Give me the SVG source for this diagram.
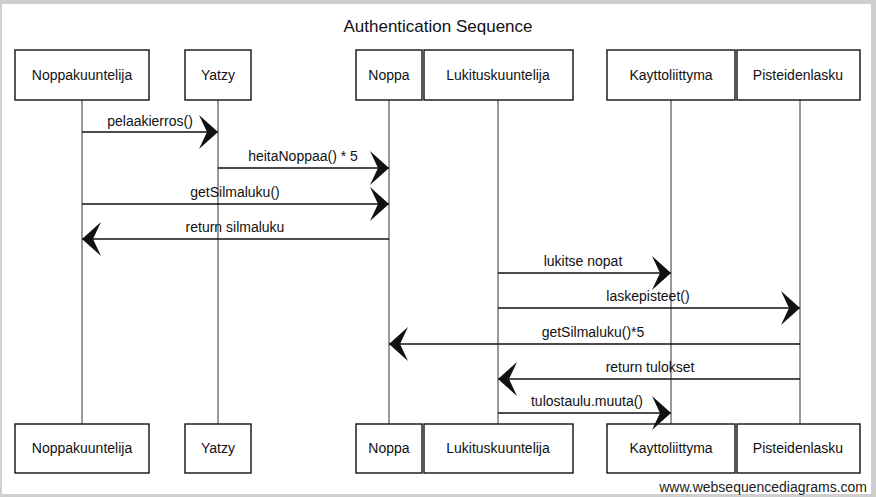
<svg xmlns="http://www.w3.org/2000/svg" width="876" height="497" viewBox="0 0 876 497">
<defs>
<style>
.box{fill:#fff;stroke:#111;stroke-width:1.4}
.life{stroke:#333;stroke-width:1;fill:none}
.msg{stroke:#111;stroke-width:1.5;fill:none}
.t{font-family:"Liberation Sans",Arial,sans-serif;font-size:14px;fill:#111;text-anchor:middle}
.title{font-family:"Liberation Sans",Arial,sans-serif;font-size:17px;fill:#111;text-anchor:middle}
.wm{font-family:"Liberation Sans",Arial,sans-serif;font-size:14px;fill:#222;text-anchor:end}
</style>
<marker id="ah" viewBox="-22 -18 24 36" refX="0" refY="0" markerWidth="24" markerHeight="36" markerUnits="userSpaceOnUse" orient="auto">
<path d="M0,0 L-19,-17 L-11,0 L-19,17 Z" fill="#111"/>
</marker>
</defs>
<rect x="0" y="0" width="876" height="497" fill="#cfcfcf"/>
<rect x="2" y="4" width="869" height="490" fill="#fff"/>
<text class="title" x="438" y="32">Authentication Sequence</text>
<g id="lifelines">
<line class="life" x1="82" y1="100" x2="82" y2="424"/>
<line class="life" x1="218" y1="100" x2="218" y2="424"/>
<line class="life" x1="389" y1="100" x2="389" y2="424"/>
<line class="life" x1="498" y1="100" x2="498" y2="424"/>
<line class="life" x1="671" y1="100" x2="671" y2="424"/>
<line class="life" x1="800" y1="100" x2="800" y2="424"/>
</g>
<g id="Noppakuuntelija">
<rect class="box" x="15" y="50" width="134" height="50"/><text class="t" x="82" y="80">Noppakuuntelija</text>
<rect class="box" x="15" y="424" width="134" height="49"/><text class="t" x="82" y="453">Noppakuuntelija</text>
</g>
<g id="Yatzy">
<rect class="box" x="185" y="50" width="66" height="50"/><text class="t" x="218" y="80">Yatzy</text>
<rect class="box" x="185" y="424" width="66" height="49"/><text class="t" x="218" y="453">Yatzy</text>
</g>
<g id="Noppa">
<rect class="box" x="356" y="50" width="66" height="50"/><text class="t" x="389" y="80">Noppa</text>
<rect class="box" x="356" y="424" width="66" height="49"/><text class="t" x="389" y="453">Noppa</text>
</g>
<g id="Lukituskuuntelija">
<rect class="box" x="424" y="50" width="149" height="50"/><text class="t" x="498" y="80">Lukituskuuntelija</text>
<rect class="box" x="424" y="424" width="149" height="49"/><text class="t" x="498" y="453">Lukituskuuntelija</text>
</g>
<g id="Kayttoliittyma">
<rect class="box" x="607" y="50" width="128" height="50"/><text class="t" x="671" y="80">Kayttoliittyma</text>
<rect class="box" x="607" y="424" width="128" height="49"/><text class="t" x="671" y="453">Kayttoliittyma</text>
</g>
<g id="Pisteidenlasku">
<rect class="box" x="737" y="50" width="123" height="50"/><text class="t" x="798" y="80">Pisteidenlasku</text>
<rect class="box" x="737" y="424" width="123" height="49"/><text class="t" x="798" y="453">Pisteidenlasku</text>
</g>
<g id="connectors">
<line class="msg" x1="82" y1="132" x2="218" y2="132" marker-end="url(#ah)"/>
<text class="t" x="150" y="126">pelaakierros()</text>
<line class="msg" x1="218" y1="168" x2="389" y2="168" marker-end="url(#ah)"/>
<text class="t" x="303" y="161">heitaNoppaa() * 5</text>
<line class="msg" x1="82" y1="204" x2="389" y2="204" marker-end="url(#ah)"/>
<text class="t" x="235" y="197">getSilmaluku()</text>
<line class="msg" x1="389" y1="239" x2="82" y2="239" marker-end="url(#ah)"/>
<text class="t" x="235" y="232">return silmaluku</text>
<line class="msg" x1="498" y1="273" x2="671" y2="273" marker-end="url(#ah)"/>
<text class="t" x="583" y="266">lukitse nopat</text>
<line class="msg" x1="498" y1="308" x2="800" y2="308" marker-end="url(#ah)"/>
<text class="t" x="648" y="301">laskepisteet()</text>
<line class="msg" x1="800" y1="344" x2="389" y2="344" marker-end="url(#ah)"/>
<text class="t" x="593" y="337">getSilmaluku()*5</text>
<line class="msg" x1="800" y1="379" x2="498" y2="379" marker-end="url(#ah)"/>
<text class="t" x="650" y="372">return tulokset</text>
<line class="msg" x1="498" y1="413" x2="671" y2="413" marker-end="url(#ah)"/>
<text class="t" x="587" y="406">tulostaulu.muuta()</text>
</g>
<text class="wm" x="867" y="492">www.websequencediagrams.com</text>
</svg>
